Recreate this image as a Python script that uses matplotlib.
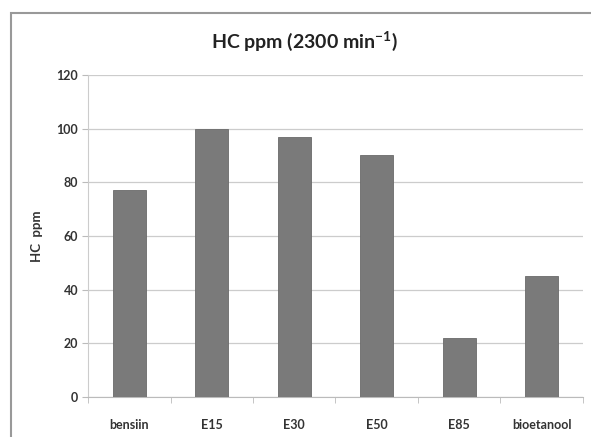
import matplotlib
matplotlib.use('Agg')
import numpy as np
from matplotlib import pyplot as plt
from matplotlib.patches import Rectangle

# HC emissions per fuel blend at 2300 rpm
fuels = ['bensiin', 'E15', 'E30', 'E50', 'E85', 'bioetanool']
hc_ppm = [77, 100, 97, 90, 22, 45]
y_ticks = [0, 20, 40, 60, 80, 100, 120]

plt.rcParams['font.family'] = ['Lato', 'DejaVu Sans']
plt.rcParams['mathtext.fontset'] = 'custom'
plt.rcParams['mathtext.bf'] = 'Lato:bold'
plt.rcParams['mathtext.rm'] = 'Lato:bold'

fig = plt.figure(figsize=(5.91, 4.37), dpi=100)
ax = fig.add_axes([0.149, 0.0915, 0.837, 0.737])

x = np.arange(len(fuels))
ax.bar(x, hc_ppm, width=0.4, color='#7a7a7a', edgecolor='#6a6a6a', linewidth=0.6, zorder=3)

ax.set_xlim(-0.5, len(fuels) - 0.5)
ax.set_ylim(0, 120)
ax.set_yticks(y_ticks)
ax.set_yticklabels([str(v) for v in y_ticks], fontsize=9, fontweight='bold', color='#333333')
ax.set_xticks(x)
ax.set_xticklabels(fuels, fontsize=9, fontweight='bold', color='#333333')
ax.tick_params(axis='x', length=0, pad=16)
ax.tick_params(axis='y', length=4, color='#bbbbbb', pad=3)

# category separators on the x axis
ax.set_xticks(np.arange(len(fuels) + 1) - 0.5, minor=True)
ax.tick_params(axis='x', which='minor', length=4, color='#bbbbbb')

ax.yaxis.grid(True, color='#cccccc', linewidth=0.9, zorder=0)
for side in ['top', 'right']:
    ax.spines[side].set_visible(False)
ax.spines['left'].set_color('#cccccc')
ax.spines['bottom'].set_color('#bbbbbb')

ax.set_ylabel('HC  ppm', fontsize=9.5, fontweight='bold', color='#333333', labelpad=10)
fig.text(0.515, 0.905, 'HC ppm (2300 min$^{\\mathbf{-1}}$)', ha='center', va='center',
         fontsize=14, fontweight='bold', color='#222222')

# outer chart frame
fig.patches.append(Rectangle((11 / 591, -0.05), 1.1, (437 - 13) / 437 + 0.05,
                             transform=fig.transFigure, fill=False,
                             edgecolor='#999999', linewidth=1.5))

fig.savefig('out.png', dpi=100)
